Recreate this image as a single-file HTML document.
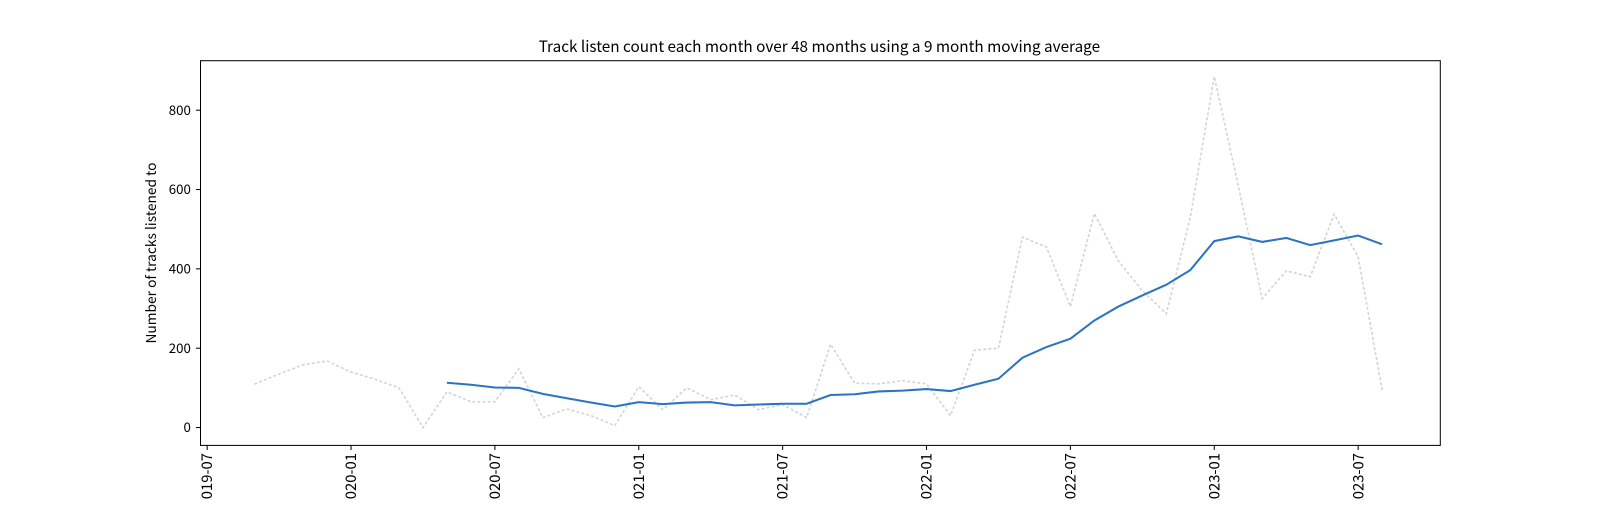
<!DOCTYPE html>
<html><head><meta charset="utf-8"><style>
body{margin:0;background:#fff}
svg text{font-family:"Noto Sans CJK JP","Liberation Sans",sans-serif;fill:#000}
</style></head><body>
<svg id="chart" width="1600" height="500" xmlns="http://www.w3.org/2000/svg">
<rect x="0" y="0" width="1600" height="500" fill="#fff"/>
<g transform="scale(1.0204)">
<text x="803" y="51" font-size="15" text-anchor="middle">Track listen count each month over 48 months using a 9 month moving average</text>
<text transform="translate(153,248) rotate(-90)" font-size="13.5" text-anchor="middle">Number of tracks listened to</text>
<g id="ticks"></g>
<polyline id="raw" fill="none" stroke="#d3d3d3" stroke-width="1.6" stroke-dasharray="1.5,3.5" stroke-linecap="round"/>
<polyline id="avg" fill="none" stroke="#2c74c0" stroke-width="2"/>
<rect x="196.5" y="59.5" width="1215" height="377" fill="none" stroke="#000" stroke-width="1"/>
</g>
</svg>
<script>
const rawStart = 2; // month index from 2019-07
const rawValues = [110,135,158,168, 140,122,100,0,90,65,65,148,25,47,30,5, 103,45,100,70,82,45,58,25,210,112,110,118, 110,30,195,200,480,455,305,540,420,345,287,530, 885,610,325,395,380,538,430,95];
const avgStart = 10;
const avgValues = [113,108,101,100,85,74,63,53, 64,59,63,64,56,58,60,60,82,84,91,93, 97,92,108,123,176,203,224,270,305,333,360,397, 470,482,468,478,460,472,484,462];
const yTicks = [0,200,400,600,800];
const xTickLabels = ["2019-07","2020-01","2020-07","2021-01","2021-07","2022-01","2022-07","2023-01","2023-07"];
const xTickMonths = [0,6,12,18,24,30,36,42,48];

const NS = "http://www.w3.org/2000/svg";
function xs(m){ return 203 + m*23.5; }
function ys(v){ return 419 - v*0.38875; }
const g = document.getElementById('ticks');
function mk(tag, attrs, txt){ const e=document.createElementNS(NS,tag); for(const k in attrs) e.setAttribute(k,attrs[k]); if(txt!==undefined) e.textContent=txt; g.appendChild(e); return e; }
yTicks.forEach(v=>{
  const y=ys(v);
  const t=mk('line',{x1:192,x2:196.5,y1:y,y2:y,stroke:'#000'});
  
  
  const l=mk('text',{x:187,y:y+4.5,'font-size':13,'text-anchor':'end'},String(v));
  
  
});
xTickMonths.forEach((m,i)=>{
  const x=xs(m);
  const t=mk('line',{x1:x,x2:x,y1:436.5,y2:441,stroke:'#000'});
  
  
  const l=mk('text',{transform:`translate(${x+5},444) rotate(-90)`,'font-size':14.5,'text-anchor':'end'},xTickLabels[i]);
  
  
});
document.getElementById('raw').setAttribute('points', rawValues.map((v,i)=>xs(rawStart+i)+','+ys(v)).join(' '));
document.getElementById('avg').setAttribute('points', avgValues.map((v,i)=>xs(avgStart+i)+','+ys(v)).join(' '));
</script>
</body></html>
